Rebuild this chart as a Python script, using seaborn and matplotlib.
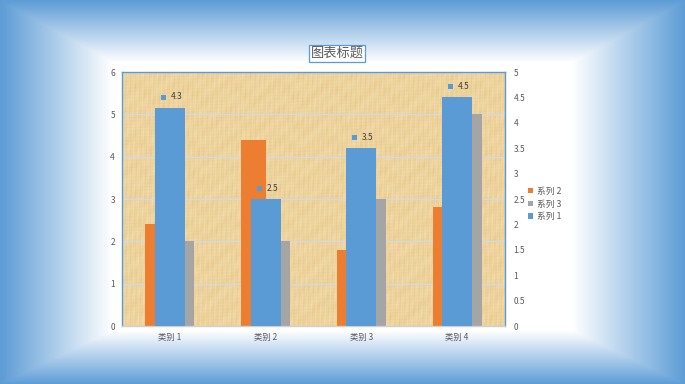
import numpy as np
import pandas as pd
import matplotlib
matplotlib.use("Agg")
import matplotlib.pyplot as plt
import matplotlib.transforms as mtransforms
from matplotlib.patches import Patch
import seaborn as sns

# ---------------- data ----------------
categories = ["类别 1", "类别 2", "类别 3", "类别 4"]
series1 = [4.3, 2.5, 3.5, 4.5]   # secondary axis (blue)
series2 = [2.4, 4.4, 1.8, 2.8]   # primary axis (orange)
series3 = [2.0, 2.0, 3.0, 5.0]   # primary axis (gray)
left_ticks = [0, 1, 2, 3, 4, 5, 6]
right_ticks = [0, 0.5, 1, 1.5, 2, 2.5, 3, 3.5, 4, 4.5, 5]
right_tick_labels = ["0", "0.5", "1", "1.5", "2", "2.5", "3", "3.5", "4", "4.5", "5"]
title = "图表标题"

C_BLUE = "#5B9BD5"
C_ORANGE = "#ED7D31"
C_GRAY = "#A5A5A5"
C_TEXT = "#595959"

sns.set_theme(style="white")
plt.rcParams["font.family"] = ["Noto Sans CJK SC", "DejaVu Sans"]

W, H = 685, 384
fig = plt.figure(figsize=(W / 100, H / 100), dpi=100)

# ---------------- background gradient (rectangular frame gradient) ----------------
yy, xx = np.mgrid[0:H, 0:W].astype(float)
tl = np.clip((112 - xx) / 112, 0, 1)
tr = np.clip((xx - 572) / (W - 572), 0, 1)
tt = np.clip((62 - yy) / 62, 0, 1)
tb = np.clip((yy - 330) / (H - 330), 0, 1)
t = np.maximum.reduce([tl, tr, tt, tb])
blue = np.array([93, 156, 214]) / 255.0
white = np.array([1.0, 1.0, 1.0])
bg = white[None, None, :] * (1 - t[..., None]) + blue[None, None, :] * t[..., None]
bg_ax = fig.add_axes([0, 0, 1, 1], zorder=-5)
bg_ax.imshow(bg, aspect="auto", extent=(0, 1, 0, 1), origin="upper")
bg_ax.set_axis_off()

# ---------------- plot axes ----------------
x0, x1, ytop, ybot = 122, 505, 72, 326
ax = fig.add_axes([x0 / W, 1 - ybot / H, (x1 - x0) / W, (ybot - ytop) / H])

df = pd.DataFrame({
    "类别": categories * 2,
    "系列": ["系列 2"] * 4 + ["系列 3"] * 4,
    "值": series2 + series3,
})
sns.barplot(data=df, x="类别", y="值", hue="系列", hue_order=["系列 2", "系列 3"],
            palette=[C_ORANGE, C_GRAY], width=0.512, saturation=1, ax=ax,
            legend=False, zorder=3, errorbar=None, linewidth=0, edgecolor="none")

# papyrus-like texture (deterministic)
th, tw = ybot - ytop, x1 - x0
ty, tx = np.mgrid[0:th, 0:tw].astype(float)
n = (0.30 * np.sin(tx * 1.31 + 0.8 * np.sin(ty * 0.05))
     + 0.22 * np.sin(tx * 2.73 + ty * 0.11)
     + 0.18 * np.sin(ty * 1.9 + tx * 0.07)
     + 0.18 * np.sin(tx * 0.37 + ty * 0.41)
     + 0.12 * np.sin(tx * 5.1 - ty * 0.3)
     + 0.15 * np.sin(ty * 0.23 + np.sin(tx * 0.13) * 2.0))
n = n / 1.1
base = np.array([237, 211, 157]) / 255.0
tex = np.clip(base[None, None, :] + n[..., None] * np.array([0.03, 0.045, 0.07])[None, None, :], 0, 1)
ax.imshow(tex, extent=(-0.5, 3.5, 0, 6), aspect="auto", zorder=0, origin="upper")

ax.set_xlim(-0.5, 3.5)
ax.set_ylim(0, 6)
ax.set_yticks(left_ticks)
ax.set_yticklabels([str(v) for v in left_ticks])
for v in left_ticks[1:]:
    ax.axhline(v, color="#D3D9E0", lw=1.0, zorder=1)
ax.set_xlabel("")
ax.set_ylabel("")
ax.set_xticks(range(len(categories)))
ax.set_xticklabels(categories)
ax.set_xticks([0.5, 1.5, 2.5], minor=True)
ax.tick_params(axis="x", which="major", length=0, pad=5, labelsize=6, labelcolor=C_TEXT)
ax.tick_params(axis="x", which="minor", length=3, color="#D0D0D0", width=0.8, direction="out")
ax.tick_params(axis="y", length=0, pad=5, labelsize=6, labelcolor=C_TEXT)
for s in ["top", "left", "right"]:
    ax.spines[s].set_color(C_BLUE)
    ax.spines[s].set_linewidth(1.0)
    ax.spines[s].set_visible(True)
ax.spines["bottom"].set_color("#D0D0D0")
ax.spines["bottom"].set_linewidth(1.0)
ax.spines["bottom"].set_zorder(5)

# ---------------- secondary axis ----------------
ax2 = ax.twinx()
sns.barplot(x=categories, y=series1, color=C_BLUE, width=0.313, saturation=1,
            ax=ax2, zorder=4, errorbar=None, linewidth=0, edgecolor="none")
ax2.set_xlim(-0.5, 3.5)
ax2.set_ylim(0, 5)
ax2.set_yticks(right_ticks)
ax2.set_yticklabels(right_tick_labels)
ax2.tick_params(axis="y", length=0, pad=6, labelsize=6, labelcolor=C_TEXT)
ax2.set_ylabel("")
for s in ax2.spines.values():
    s.set_visible(False)

# data labels for series 1
mk_tr = mtransforms.offset_copy(ax2.transData, fig=fig, x=-5.0, y=7.9, units="points")
tx_tr = mtransforms.offset_copy(ax2.transData, fig=fig, x=0.5, y=7.9, units="points")
for i, v in enumerate(series1):
    ax2.plot([i], [v], marker="s", markersize=3.6, color=C_BLUE, transform=mk_tr,
             clip_on=False, zorder=6, markeredgewidth=0)
    ax2.text(i, v, f"{v:g}", transform=tx_tr, ha="left", va="center",
             fontsize=6, color="#404040", zorder=6)

# ---------------- title ----------------
fig.text(337 / W, 1 - 53.5 / H, title, ha="center", va="center", fontsize=9.5,
         color=C_TEXT,
         bbox=dict(boxstyle="square,pad=0.15", facecolor="white", edgecolor=C_BLUE, linewidth=0.9))

# ---------------- legend ----------------
handles = [Patch(facecolor=C_ORANGE, edgecolor="none", label="系列 2"),
           Patch(facecolor=C_GRAY, edgecolor="none", label="系列 3"),
           Patch(facecolor=C_BLUE, edgecolor="none", label="系列 1")]
leg = fig.legend(handles=handles, loc="center left", bbox_to_anchor=(528 / W, 1 - 204 / H),
                 frameon=False, fontsize=6.3, handlelength=0.55, handleheight=0.55,
                 handletextpad=0.45, labelspacing=0.42, borderpad=0.0, borderaxespad=0.0)
for txt in leg.get_texts():
    txt.set_color(C_TEXT)

fig.savefig("out.png", dpi=100)
